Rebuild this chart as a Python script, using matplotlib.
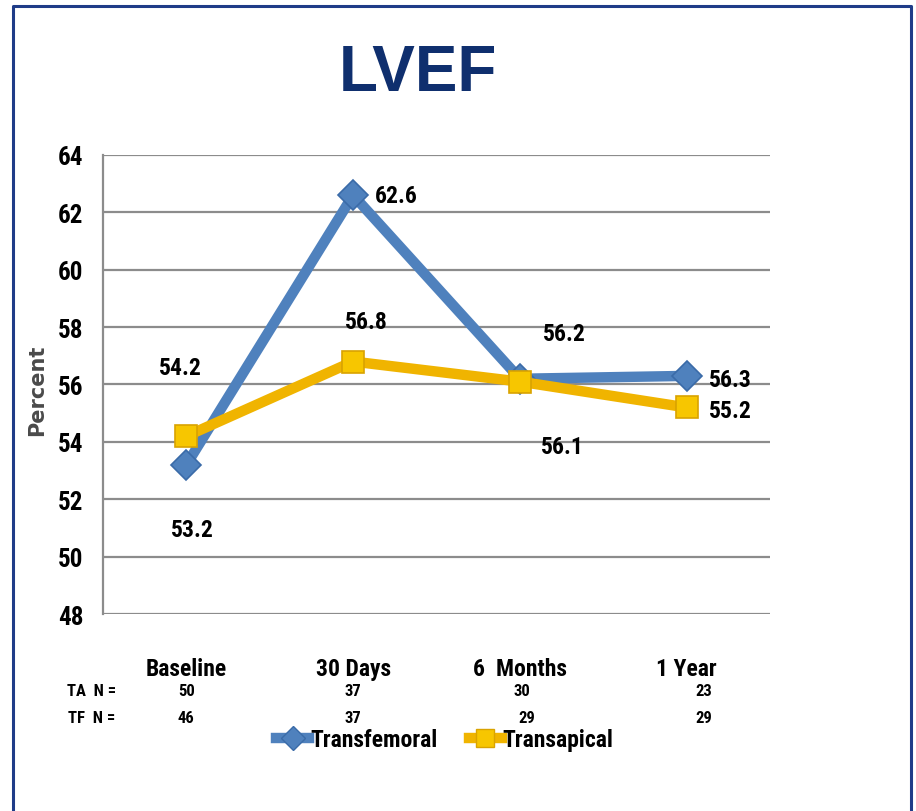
import matplotlib
matplotlib.use("Agg")
import matplotlib.pyplot as plt
from matplotlib.lines import Line2D

# Data
categories = ["Baseline", "30 Days", "6  Months", "1 Year"]
transfemoral = [53.2, 62.6, 56.2, 56.3]
transapical = [54.2, 56.8, 56.1, 55.2]
ta_n = [50, 37, 30, 23]
tf_n = [46, 37, 29, 29]
y_ticks = [48, 50, 52, 54, 56, 58, 60, 62, 64]

plt.rcParams["font.family"] = ["Roboto Condensed", "Liberation Sans", "DejaVu Sans"]

BLUE = "#4F81BD"
BLUE_EDGE = "#3A6BA8"
GOLD = "#F0B400"
GOLD_FACE = "#F7C600"
GOLD_EDGE = "#D9A300"
NAVY = "#0F2F6E"

fig = plt.figure(figsize=(9.16, 8.12), dpi=100)
ax = fig.add_axes([0.1124, 0.2426, 0.7282, 0.5653])

x = list(range(len(categories)))

ax.plot(x, transfemoral, color=BLUE, lw=7.5, marker="D", ms=15,
        mfc=BLUE, mec=BLUE_EDGE, mew=1.2, zorder=3, solid_joinstyle="miter")
ax.plot(x, transapical, color=GOLD, lw=7.5, marker="s", ms=16,
        mfc=GOLD_FACE, mec=GOLD_EDGE, mew=1.2, zorder=4, solid_joinstyle="miter")

ax.set_xlim(-0.5, 3.5)
ax.set_ylim(48, 64)
ax.set_yticks(y_ticks)
ax.set_yticklabels([str(v) for v in y_ticks], fontsize=18, fontweight="bold")
ax.tick_params(axis="y", length=0, pad=14)
ax.set_xticks(x)
ax.set_xticklabels(categories, fontsize=17, fontweight="bold")
ax.tick_params(axis="x", length=0, pad=31)

ax.grid(axis="y", color="#8C8C8C", lw=1.6)
ax.set_axisbelow(True)
for s in ["top", "right", "bottom"]:
    ax.spines[s].set_visible(False)
ax.spines["left"].set_color("#8C8C8C")
ax.spines["left"].set_linewidth(1.6)

ax.set_ylabel("Percent", family="DejaVu Sans", fontweight="bold",
              fontsize=15, color="#4A4A4A")
ax.yaxis.set_label_coords(-0.084, 0.49)

# Value labels (offsets in pixels)
tf_offsets = [(6, -65, "center"), (22, 0, "left"), (45, 45, "center"), (22, -4, "left")]
ta_offsets = [(-6, 69, "center"), (13, 40, "center"), (43, -65, "center"), (22, -3, "left")]
for xi, v, (dx, dy, ha) in zip(x, transfemoral, tf_offsets):
    ax.annotate(f"{v:.1f}", (xi, v), xytext=(dx, dy), textcoords="offset pixels",
                ha=ha, va="center", fontsize=17, fontweight="bold", zorder=6)
for xi, v, (dx, dy, ha) in zip(x, transapical, ta_offsets):
    ax.annotate(f"{v:.1f}", (xi, v), xytext=(dx, dy), textcoords="offset pixels",
                ha=ha, va="center", fontsize=17, fontweight="bold", zorder=6)

# Sample size rows
trans = ax.get_xaxis_transform()
ta_shift = [0.0, 0.0, 0.01, 0.1]
tf_shift = [0.0, 0.0, 0.04, 0.1]
fig.text(92 / 916, 1 - 692 / 812, "TA  N =", ha="center", va="center",
         fontsize=12, fontweight="bold")
fig.text(92 / 916, 1 - 719 / 812, "TF  N =", ha="center", va="center",
         fontsize=12, fontweight="bold")
for xi, n, s in zip(x, ta_n, ta_shift):
    ax.text(xi + s, -(692 - 615) / 460, str(n), transform=trans, ha="center",
            va="center", fontsize=12, fontweight="bold")
for xi, n, s in zip(x, tf_n, tf_shift):
    ax.text(xi + s, -(719 - 615) / 460, str(n), transform=trans, ha="center",
            va="center", fontsize=12, fontweight="bold")

# Legend
handles = [
    Line2D([], [], color=BLUE, lw=7.5, marker="D", ms=12, mfc=BLUE, mec=BLUE_EDGE),
    Line2D([], [], color=GOLD, lw=7.5, marker="s", ms=13, mfc=GOLD_FACE, mec=GOLD_EDGE),
]
fig.legend(handles, ["Transfemoral", "Transapical"], loc="center",
           bbox_to_anchor=(445 / 916, 1 - 741 / 812), ncol=2, frameon=False,
           prop={"size": 17, "weight": "bold"}, handlelength=1.4,
           handletextpad=0.05, columnspacing=1.3)

# Title
fig.text(418 / 916, 1 - 74 / 812, "LVEF", ha="center", va="center",
         family=["Liberation Sans", "DejaVu Sans"], fontsize=46,
         fontweight="bold", color=NAVY)

# Frame around the slide
frame_color = "#1F3C88"
lx, rx, ty = 13 / 916, 911 / 916, 1 - 7 / 812
fig.add_artist(Line2D([lx, lx, rx, rx], [0, ty, ty, 0], transform=fig.transFigure,
                      color=frame_color, lw=2.2))

fig.savefig("out.png", dpi=100)
